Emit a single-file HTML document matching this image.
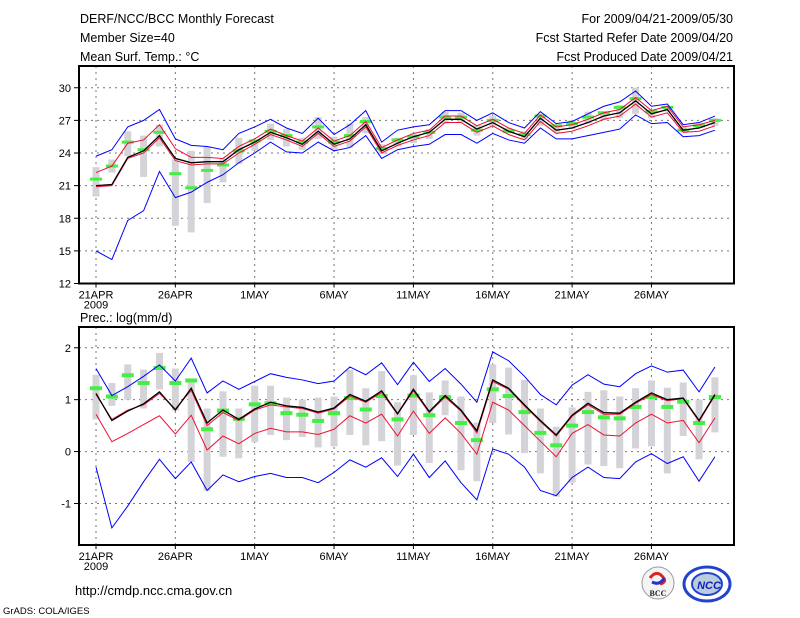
<!DOCTYPE html>
<html><head><meta charset="utf-8"><style>
html,body{margin:0;padding:0;background:#fff;}
svg{display:block;font-family:"Liberation Sans",sans-serif;}
</style></head><body>
<svg id="c" width="800" height="618" viewBox="0 0 800 618">
<g font-size="12.5" fill="#000">
<text x="80" y="23">DERF/NCC/BCC Monthly Forecast</text>
<text x="80" y="42">Member Size=40</text>
<text x="80" y="61">Mean Surf. Temp.: °C</text>
<text x="733" y="23" text-anchor="end">For 2009/04/21-2009/05/30</text>
<text x="733" y="42" text-anchor="end">Fcst Started Refer Date 2009/04/20</text>
<text x="733" y="61" text-anchor="end">Fcst Produced Date 2009/04/21</text>
<text x="80" y="322">Prec.: log(mm/d)</text>
<text x="75" y="595" font-size="13">http://cmdp.ncc.cma.gov.cn</text>
<text x="3" y="614" font-size="9.5">GrADS: COLA/IGES</text>
</g>
<g>
<circle cx="658" cy="583" r="16" fill="#f4f4f4" stroke="#999" stroke-width="1"/>
<path d="M650 578 q6 -8 12 -2 q6 6 -2 8" fill="none" stroke="#d22" stroke-width="3"/>
<path d="M664 578 q-4 8 -12 4" fill="none" stroke="#23c" stroke-width="3"/>
<text x="658" y="596" font-size="8" font-weight="bold" text-anchor="middle" fill="#222" font-family="Liberation Serif,serif">BCC</text>
</g>
<g>
<ellipse cx="707" cy="584" rx="23" ry="17" fill="#fff" stroke="#24c" stroke-width="3"/>
<ellipse cx="707" cy="584" rx="15" ry="11" fill="#bcd" stroke="#24c" stroke-width="2"/>
<text x="709" y="589" font-size="11" font-weight="bold" font-style="italic" text-anchor="middle" fill="#12b">NCC</text>
</g>
</svg>
<script>
const days = ["21APR","26APR","1MAY","6MAY","11MAY","16MAY","21MAY","26MAY"];
const tTicks = [12,15,18,21,24,27,30];
const tMean = [21.0,21.1,23.6,24.2,25.6,23.5,23.1,23.2,23.2,24.3,25.0,25.9,25.4,24.8,26.0,24.8,25.3,26.6,24.2,24.9,25.5,25.9,27.1,27.1,26.2,26.8,26.0,25.5,27.2,26.1,26.3,26.8,27.4,27.7,28.8,27.6,28.0,26.1,26.3,26.8];
const tRedHi = [22.2,22.8,24.9,25.2,26.6,24.4,23.6,23.6,23.5,24.6,25.3,26.2,25.6,25.1,26.3,25.1,25.6,26.9,24.5,25.2,25.8,26.1,27.4,27.4,26.5,27.1,26.3,25.8,27.5,26.4,26.6,27.1,27.7,28.0,29.1,27.9,28.3,26.4,26.6,27.0];
const tRedLo = [20.9,21.0,23.5,24.0,25.4,23.3,22.9,23.0,23.0,24.0,24.8,25.7,25.2,24.6,25.8,24.6,25.1,26.4,24.0,24.7,25.2,25.6,26.8,26.8,25.9,26.5,25.7,25.2,26.9,25.8,26.0,26.5,27.1,27.4,28.5,27.3,27.7,25.9,26.0,26.5];
const tBlueHi = [23.7,24.3,26.4,27.0,28.0,25.3,24.7,24.6,24.3,25.8,26.4,27.1,26.3,25.8,27.2,25.7,26.6,27.9,25.0,26.1,26.4,26.6,27.9,27.9,27.0,27.7,26.8,26.3,27.8,26.7,26.9,27.6,28.3,28.7,29.7,28.3,28.5,26.6,26.8,27.4];
const tBlueLo = [15.0,14.2,17.8,18.7,22.3,19.9,20.4,21.3,22.0,23.1,24.0,25.0,24.1,24.0,25.0,24.2,24.5,25.6,23.5,24.3,24.6,24.8,25.7,25.7,24.9,25.8,25.2,24.9,26.3,25.3,25.3,25.6,25.9,26.2,27.5,26.7,26.8,25.5,25.6,26.1];
const tGreen = [21.6,22.8,25.0,24.3,25.9,22.1,20.8,22.4,22.9,24.2,25.1,26.0,25.6,25.0,26.4,25.0,25.6,26.9,24.4,25.2,25.5,25.9,27.3,27.3,26.1,27.0,26.0,25.7,27.4,26.5,26.7,27.3,27.7,28.2,29.0,27.8,28.2,26.1,26.5,27.0];
const tBoxLo = [20.0,22.2,23.7,21.8,24.6,17.3,16.7,19.4,21.3,23.0,24.2,25.2,24.6,24.3,25.3,24.3,24.5,25.8,23.9,24.6,24.9,25.3,26.7,26.8,25.6,26.5,25.8,25.3,26.5,25.9,26.2,26.7,27.0,27.2,27.6,27.2,27.8,25.9,26.3,26.5];
const tBoxHi = [22.7,23.4,26.0,25.6,26.6,23.4,24.2,24.6,23.5,25.4,25.2,26.7,26.2,25.4,27.3,25.5,26.7,27.3,24.8,25.4,25.8,26.2,27.8,27.7,26.6,27.4,26.3,26.0,27.6,26.6,27.0,27.8,27.8,28.4,30.0,28.0,28.2,26.4,26.8,27.2];

const pTicks = [-1,0,1,2];
const pMean = [1.12,0.6,0.78,0.92,1.15,0.8,1.22,0.55,0.8,0.62,0.82,0.95,0.88,0.85,0.76,0.84,1.1,0.97,1.17,0.73,1.2,0.77,1.08,0.8,0.4,1.38,1.22,0.9,0.6,0.32,0.7,0.93,0.75,0.74,0.95,1.13,1.0,1.03,0.6,1.1];
const pRedHi = [1.1,0.62,0.8,0.9,1.12,0.82,1.18,0.5,0.75,0.6,0.8,0.9,0.86,0.83,0.74,0.82,1.07,0.95,1.14,0.72,1.17,0.75,1.05,0.78,0.36,1.35,1.2,0.88,0.58,0.3,0.68,0.9,0.72,0.72,0.93,1.1,0.98,1.02,0.58,1.08];
const pRedLo = [0.72,0.19,0.35,0.52,0.69,0.34,0.7,0.03,0.3,0.15,0.35,0.45,0.38,0.38,0.33,0.43,0.69,0.55,0.72,0.3,0.78,0.35,0.65,0.35,-0.05,0.95,0.8,0.5,0.2,-0.1,0.35,0.52,0.32,0.3,0.55,0.72,0.55,0.6,0.17,0.65];
const pBlueHi = [1.6,1.08,1.25,1.45,1.67,1.36,1.8,1.13,1.36,1.2,1.35,1.5,1.43,1.38,1.31,1.36,1.63,1.48,1.71,1.29,1.72,1.35,1.6,1.3,0.95,1.92,1.75,1.45,1.1,0.9,1.28,1.48,1.3,1.25,1.5,1.65,1.53,1.57,1.15,1.63];
const pBlueLo = [-0.3,-1.47,-1.05,-0.58,-0.15,-0.52,-0.2,-0.75,-0.45,-0.58,-0.48,-0.42,-0.5,-0.5,-0.6,-0.4,-0.16,-0.3,-0.12,-0.48,-0.05,-0.5,-0.18,-0.6,-0.93,0.05,-0.05,-0.3,-0.75,-0.85,-0.5,-0.3,-0.5,-0.52,-0.2,-0.04,-0.23,-0.1,-0.57,-0.1];
const pGreen = [1.22,1.06,1.47,1.32,1.61,1.32,1.37,0.43,0.79,0.63,0.91,0.93,0.74,0.71,0.59,0.74,1.03,0.81,1.07,0.62,1.08,0.7,1.05,0.55,0.22,1.2,1.07,0.76,0.36,0.12,0.5,0.76,0.66,0.64,0.86,1.05,0.86,0.96,0.55,1.05];
const pBoxLo = [0.62,0.88,1.0,0.83,1.2,0.79,-0.2,-0.75,-0.1,-0.13,0.18,0.32,0.22,0.28,0.08,0.1,0.32,0.12,0.2,-0.27,0.32,-0.22,0.7,-0.36,-0.57,0.55,0.33,-0.03,-0.42,-0.87,-0.6,-0.25,-0.28,-0.32,0.06,0.1,-0.42,0.3,-0.15,0.37];
const pBoxHi = [1.48,1.32,1.68,1.58,1.9,1.6,1.37,0.83,1.16,0.83,1.27,1.27,1.04,1.0,1.04,1.06,1.57,1.22,1.55,0.95,1.47,1.14,1.37,1.06,0.56,1.68,1.62,1.38,0.83,0.48,0.85,1.15,1.18,1.06,1.22,1.37,1.23,1.33,1.0,1.43];

const NS="http://www.w3.org/2000/svg";
const svg=document.getElementById('c');
function mk(tag,attrs,parent){const e=document.createElementNS(NS,tag);for(const k in attrs)e.setAttribute(k,attrs[k]);(parent||svg).appendChild(e);return e;}
const X0=79,X1=734;
function xs(d){return 96+15.87*d;}

function panel(name,top,bottom,vmin,vmax,ticks,mean,redHi,redLo,blueHi,blueLo,green,boxLo,boxHi,gh){
  const ys=v=>bottom-(v-vmin)/(vmax-vmin)*(bottom-top);
  const g=mk('g',{});
  
  
  ticks.forEach(t=>{
    if(t===vmin||t===vmax)return;
    const l=mk('line',{x1:X0,x2:X1,y1:ys(t),y2:ys(t),stroke:'#777','stroke-width':1,'stroke-dasharray':'2,4'},g);
    
    
  });
  days.forEach((d,i)=>{
    const x=xs(i*5);
    const l=mk('line',{x1:x,x2:x,y1:top,y2:bottom,stroke:'#777','stroke-width':1,'stroke-dasharray':'2,4'},g);
    
    
    const tk=mk('line',{x1:x,x2:x,y1:bottom,y2:bottom+4,stroke:'#000'},g);
    
    
    const t=mk('text',{x:x,y:bottom+15,'font-size':11,'text-anchor':'middle'},g);
    t.textContent=d;
    
    
  });
  const yr=mk('text',{x:xs(0),y:bottom+25,'font-size':11,'text-anchor':'middle'},g);
  yr.textContent='2009';
  
  
  ticks.forEach(t=>{
    const tk=mk('line',{x1:X0-5,x2:X0,y1:ys(t),y2:ys(t),stroke:'#000'},g);
    
    
    const tx=mk('text',{x:X0-8,y:ys(t)+4,'font-size':11,'text-anchor':'end'},g);
    tx.textContent=t;
    
    
  });
  boxLo.forEach((lo,i)=>{
    const r=mk('rect',{x:xs(i)-3.5,y:ys(boxHi[i]),width:7,height:Math.max(1,ys(lo)-ys(boxHi[i])),fill:'#d4d4d8'},g);
    
    
  });
  green.forEach((v,i)=>{
    const r=mk('rect',{x:xs(i)-6,y:ys(v)-gh/2,width:12,height:gh,fill:'#44ee44'},g);
    
    
  });
  function line(arr,col,nm,w){
    const p=mk('polyline',{points:arr.map((v,i)=>xs(i)+','+ys(v)).join(' '),fill:'none',stroke:col,'stroke-width':w||1},g);
    
    
  }
  line(blueHi,'#0000ff','blue-upper-line');
  line(blueLo,'#0000ff','blue-lower-line');
  line(redHi,'#ee1133','red-upper-line');
  line(redLo,'#ee1133','red-lower-line');
  line(mean,'#000','mean-line',1.3);
  const f=mk('rect',{x:X0,y:top,width:X1-X0,height:bottom-top,fill:'none',stroke:'#000','stroke-width':2},g);
  
  
}
panel('temperature',66,283.5,12,32,tTicks,tMean,tRedHi,tRedLo,tBlueHi,tBlueLo,tGreen,tBoxLo,tBoxHi,3);
panel('precipitation',327,545,-1.8,2.4,pTicks,pMean,pRedHi,pRedLo,pBlueHi,pBlueLo,pGreen,pBoxLo,pBoxHi,4);
</script>
</body></html>
